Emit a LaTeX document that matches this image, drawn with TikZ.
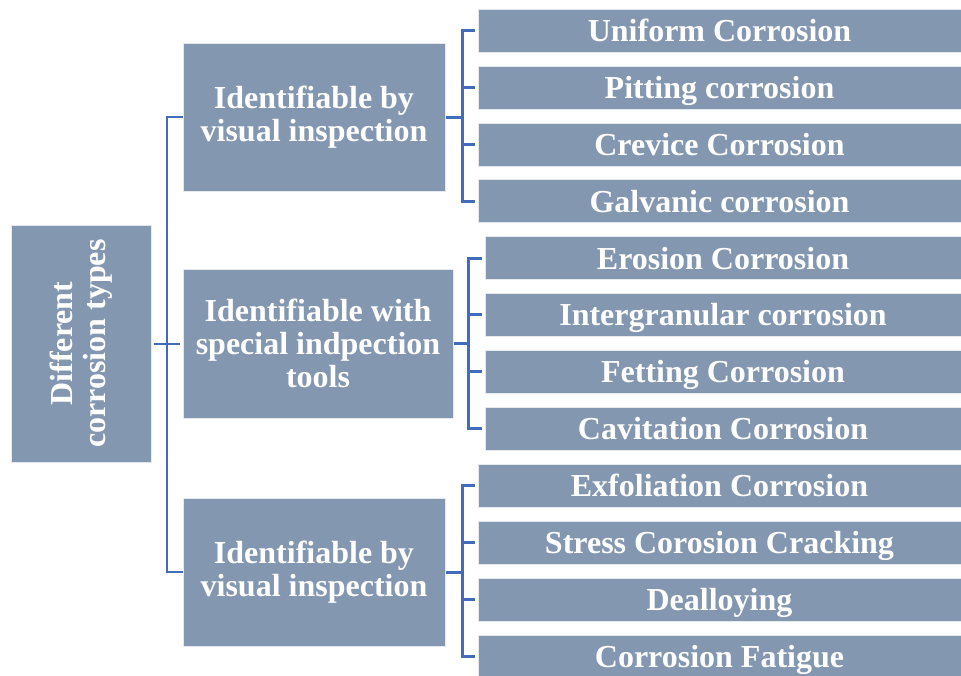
\documentclass[tikz,border=0pt]{standalone}
\usepackage{fontspec}
\setmainfont{Liberation Serif}
\usetikzlibrary{positioning}
\definecolor{boxfill}{RGB}{132,151,176}
\definecolor{linkblue}{RGB}{66,108,185}
\tikzstyle{spine}=[draw=linkblue, line width=2pt]
\tikzstyle{bracket}=[draw=linkblue, line width=3pt]

\begin{document}
\begin{tikzpicture}[
        x=1pt, y=-1pt,
        font=\bfseries\fontsize{32}{33}\selectfont,
        box/.style={fill=boxfill, draw=white!80!boxfill, line width=1pt, text=white, inner sep=0pt, align=center},
        cat/.style={box, minimum width=262pt, minimum height=148pt},
        leaf/.style={box, minimum width=483pt, minimum height=43pt, text height=25pt, text depth=3pt}
        ]
        \useasboundingbox (0,0) rectangle (961,675);
        \node[box, rotate=90, minimum width=237pt, minimum height=140pt] (root) at (81,343.5) {Different\\corrosion types};
        \node[cat] (g1) at (314,117) {Identifiable by\\visual inspection};
        \node[cat, minimum width=270pt, minimum height=149pt] (g2) at (318,343.5) {Identifiable with\\special indpection\\tools};
        \node[cat] (g3) at (314,572) {Identifiable by\\visual inspection};
        \node[leaf] (t1) at (719.5,30.7) {Uniform Corrosion};
        \node[leaf] (t2) at (719.5,87.5) {Pitting corrosion};
        \node[leaf] (t3) at (719.5,144.5) {Crevice Corrosion};
        \node[leaf] (t4) at (719.5,201) {Galvanic corrosion};
        \node[leaf, minimum width=476pt] (t5) at (723,258) {Erosion Corrosion};
        \node[leaf, minimum width=476pt] (t6) at (723,314.5) {Intergranular corrosion};
        \node[leaf, minimum width=476pt] (t7) at (723,371.5) {Fetting Corrosion};
        \node[leaf, minimum width=476pt] (t8) at (723,428.5) {Cavitation Corrosion};
        \node[leaf] (t9) at (719.5,485.5) {Exfoliation Corrosion};
        \node[leaf] (t10) at (719.5,542.5) {Stress Corosion Cracking};
        \node[leaf] (t11) at (719.5,599.5) {Dealloying};
        \node[leaf] (t12) at (719.5,656.5) {Corrosion Fatigue};

        \coordinate (s) at (167,343.5);
        \draw[spine] (g1.west) -| (s) |- (g3.west);
        \draw[spine, shorten <=2pt, shorten >=3pt] (root.south) -- (g2.west);

        \coordinate (j1) at (462,117);
        \coordinate (j2) at (468,343.5);
        \coordinate (j3) at (462,572);
        \draw[bracket] (g1.east) -- (j1);
        \draw[bracket] (g2.east) -- (j2);
        \draw[bracket] (g3.east) -- (j3);
        \draw[bracket] ([xshift=-3pt]t1.west) -| (j1) |- ([xshift=-3pt]t4.west);
        \draw[bracket] ([xshift=-3pt]t5.west) -| (j2) |- ([xshift=-3pt]t8.west);
        \draw[bracket] ([xshift=-3pt]t9.west) -| (j3) |- ([xshift=-3pt]t12.west);
        \foreach \i in {2,3}
            \draw[bracket] ([xshift=-3pt]t\i.west) -- (j1 |- t\i.west);
        \foreach \i in {6,7}
            \draw[bracket] ([xshift=-3pt]t\i.west) -- (j2 |- t\i.west);
        \foreach \i in {10,11}
            \draw[bracket] ([xshift=-3pt]t\i.west) -- (j3 |- t\i.west);
    \end{tikzpicture}
\end{document}
